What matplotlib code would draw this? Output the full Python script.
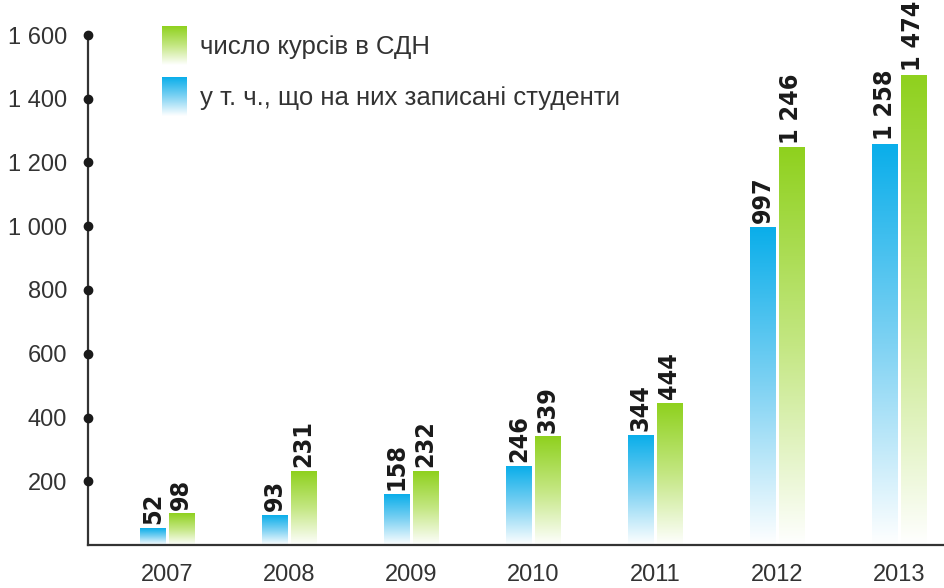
import numpy as np
import matplotlib.pyplot as plt
from matplotlib.colors import LinearSegmentedColormap

# data
years = ['2007', '2008', '2009', '2010', '2011', '2012', '2013']
students = [52, 93, 158, 246, 344, 997, 1258]     # у т. ч., що на них записані студенти
courses = [98, 231, 232, 339, 444, 1246, 1474]    # число курсів в СДН
yticks = [200, 400, 600, 800, 1000, 1200, 1400, 1600]
ytick_labels = ['200', '400', '600', '800', '1 000', '1 200', '1 400', '1 600']
legend_labels = ['число курсів в СДН', 'у т. ч., що на них записані студенти']


def fmt(v):
    return f'{v:,}'.replace(',', ' ')


blue = '#0aaeea'
green = '#8fd11e'
cm_blue = LinearSegmentedColormap.from_list('b', ['#ffffff', '#7fd2f3', blue])
cm_green = LinearSegmentedColormap.from_list('g', ['#ffffff', '#c4e783', green])
grad = np.linspace(0, 1, 256).reshape(-1, 1)

W, H = 944, 588
fig = plt.figure(figsize=(W / 100, H / 100), dpi=100)
ax = fig.add_axes([88 / W, 43 / H, (W - 88) / W, (545 - 35) / H])

x = np.arange(len(years))
bw = 0.205
off = 0.115

for i in x:
    for val, dx, cm in [(students[i], -off, cm_blue), (courses[i], off, cm_green)]:
        x0 = i + dx - bw / 2
        ax.imshow(grad, extent=(x0, x0 + bw, 0, val), origin='lower',
                  cmap=cm, aspect='auto', zorder=2, interpolation='bilinear')
        ax.annotate(fmt(val), (i + dx, val), xytext=(0, 3), textcoords='offset points',
                    rotation=90, ha='center', va='bottom', fontsize=18,
                    fontweight='bold', family='DejaVu Sans', fontstretch='condensed',
                    color='#1a1a1a')

ax.set_xlim(-0.6475, 6.369)
ax.set_ylim(0, 1600)

# axes styling
for s in ['top', 'right']:
    ax.spines[s].set_visible(False)
for s in ['left', 'bottom']:
    ax.spines[s].set_color('#333333')
    ax.spines[s].set_linewidth(1.6)

ax.set_yticks(yticks)
ax.set_yticklabels(ytick_labels, family='Liberation Sans', fontsize=17, color='#333333')
ax.set_xticks(x)
ax.set_xticklabels(years, family='Liberation Sans', fontsize=17, color='#333333')
ax.tick_params(axis='y', length=0, pad=15)
ax.tick_params(axis='x', length=0, pad=14)

# dots on the y axis
ax.plot(np.full(len(yticks), -0.6475), yticks, 'o', color='#1a1a1a',
        markersize=6, clip_on=False, zorder=5)

# legend
for k, (lab, cm) in enumerate(zip(legend_labels, [cm_green, cm_blue])):
    top = 26 + k * 51
    lax = fig.add_axes([162 / W, (H - top - 39) / H, 25 / W, 39 / H])
    lax.imshow(grad, cmap=cm, origin='lower', aspect='auto', interpolation='bilinear')
    lax.axis('off')
    fig.text(200 / W, (H - top - 21) / H, lab, family='Liberation Sans',
             fontsize=18.5, color='#333333', va='center', ha='left')

fig.savefig('out.png', dpi=100)
